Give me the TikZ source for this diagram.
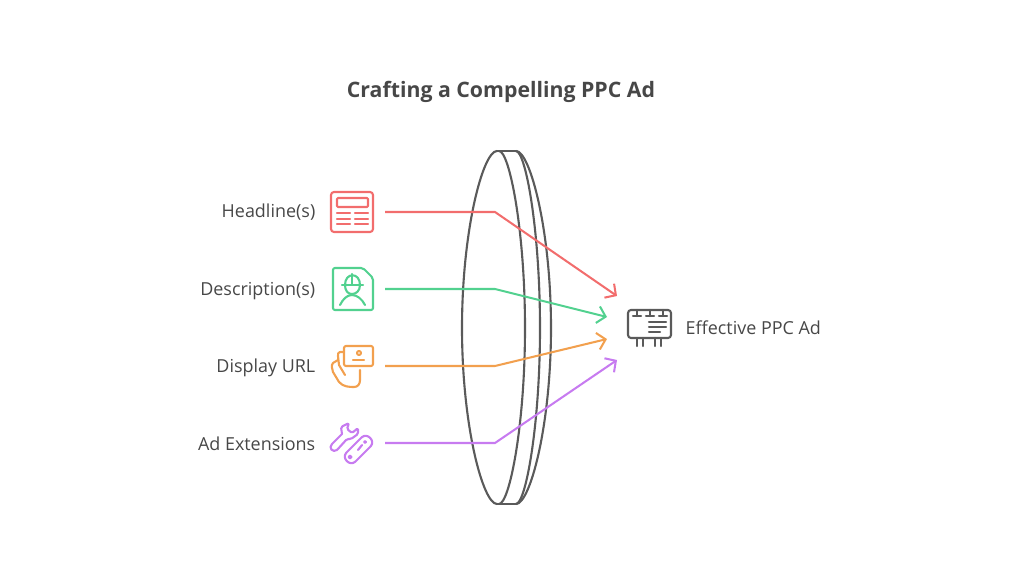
\documentclass[tikz,border=0pt]{standalone}
\usepackage{fontspec}
\setmainfont{Open Sans}
\usetikzlibrary{arrows.meta}
\definecolor{inktext}{HTML}{474747}
\definecolor{lensgray}{HTML}{5A5A5A}
\definecolor{adred}{HTML}{F26D6D}
\definecolor{adgreen}{HTML}{52D18F}
\definecolor{adorange}{HTML}{F2A04E}
\definecolor{adpurple}{HTML}{C77BF0}
\tikzset{
  titletext/.style={text=inktext,font=\fontsize{6.05pt}{7pt}\selectfont\bfseries,inner sep=0pt},
  adlabel/.style={text=inktext,font=\fontsize{5.1pt}{6pt}\selectfont,inner sep=0pt},
  lensline/.style={draw=lensgray,line width=0.6pt},
  iconline/.style={line width=0.6pt,line cap=round,line join=round},
  feed/.style={line width=0.58pt,->,>={Straight Barb[length=0.08cm,width=0.17cm]}}
}
\begin{document}
\begin{tikzpicture}[x=0.01cm,y=-0.01cm]
\useasboundingbox (0,0) rectangle (1024,579);
\node[titletext,anchor=base] (title) at (501,98) {Crafting a Compelling PPC Ad};
% lens
\foreach \topx/\rx in {497/-35,499/26,516/24,516/35}
  \draw[lensline] (\topx,151) .. controls ({\topx+0.4*\rx},151) and ({\topx+\rx},230) .. ({\topx+\rx},328)
    .. controls ({\topx+\rx},426) and ({\topx+0.4*\rx},504) .. (\topx,504);
\draw[lensline] (497,151) -- (516,151);
\draw[lensline] (497,504) -- (516,504);
% labels
\node[adlabel,anchor=base east] (headline) at (316,218) {Headline(s)};
\node[adlabel,anchor=base east] (description) at (316,296) {Description(s)};
\node[adlabel,anchor=base east] (displayurl) at (316,373) {Display URL};
\node[adlabel,anchor=base east] (extensions) at (316,450) {Ad Extensions};
\node[adlabel,anchor=base west] (result) at (685,334) {Effective PPC Ad};
% connector ends
\coordinate (headlineout) at (385,212);
\coordinate (headlinebend) at (495,212);
\coordinate (headlinein) at (617,296);
\coordinate (descriptionout) at (385,289);
\coordinate (descriptionbend) at (495,289);
\coordinate (descriptionin) at (607,317);
\coordinate (displayurlout) at (385,366);
\coordinate (displayurlbend) at (495,366);
\coordinate (displayurlin) at (607,339);
\coordinate (extensionsout) at (385,443);
\coordinate (extensionsbend) at (495,443);
\coordinate (extensionsin) at (617,360);
\draw[feed,adred] (headlineout) -- (headlinebend) -- (headlinein);
\draw[feed,adgreen] (descriptionout) -- (descriptionbend) -- (descriptionin);
\draw[feed,adorange] (displayurlout) -- (displayurlbend) -- (displayurlin);
\draw[feed,adpurple] (extensionsout) -- (extensionsbend) -- (extensionsin);
% headline icon
\draw[iconline,adred,rounded corners=0.03cm] (331,192) rectangle (373,232);
\draw[iconline,adred,rounded corners=0.01cm] (337,198) rectangle (368,207);
\foreach \y in {213,219,224} {
  \draw[iconline,adred] (337,\y) -- (350,\y);
  \draw[iconline,adred] (355,\y) -- (368,\y);
}
% description icon
\draw[iconline,adgreen,rounded corners=0.02cm] (363,268) -- (333,268) -- (333,310) -- (373,310) -- (373,278) -- cycle;
\draw[iconline,adgreen] (345,285) .. controls (345,272) and (360,272) .. (360,285);
\draw[iconline,adgreen] (345,285) .. controls (345,291) and (348,294) .. (352,294) .. controls (356,294) and (360,291) .. (360,285);
\draw[iconline,adgreen] (342,285) -- (363,285);
\draw[iconline,adgreen] (352,274) -- (352,284);
\draw[iconline,adgreen] (340,305) .. controls (343,299) and (347,295) .. (352,295) .. controls (357,295) and (362,299) .. (365,305);
% display url icon
\draw[iconline,adorange,rounded corners=0.02cm] (344,346) rectangle (373,366);
\draw[iconline,adorange] (359,353) circle[radius=2];
\draw[iconline,adorange] (353,360) -- (364,360);
\draw[iconline,adorange] (344,352) -- (340,352) .. controls (338,352) and (338,354) .. (338,356) -- (339,365) -- (345,375);
\draw[iconline,adorange] (338,360) -- (333,363) .. controls (331,365) and (332,369) .. (333,372) -- (339,382) .. controls (343,387) and (350,387) .. (354,387) .. controls (358,387) and (360,384) .. (360,380) -- (360,370);
% ad extensions icon
\draw[iconline,adpurple,rounded corners=0.015cm] (342,434) -- (341,427) -- (349,423) -- (347,429) -- (352,433) -- (358,428) -- (358,434) -- (351,439) -- (347,439) -- (337,450);
\draw[iconline,adpurple] (337,450) .. controls (333,453) and (328,448) .. (332,444) -- (342,434);
\draw[iconline,adpurple] (346.5,452.5) -- (361.5,437.5) .. controls (367,432) and (376,441) .. (370.5,446.5) -- (355.5,461.5) .. controls (350,467) and (341,458) .. (346.5,452.5);
\draw[iconline,adpurple] (350,457) circle[radius=1.5];
\draw[iconline,adpurple] (365,442) circle[radius=1];
\draw[iconline,adpurple] (358,450) -- (362,445);
% billboard icon
\draw[iconline,lensgray,rounded corners=0.03cm] (628,310) rectangle (671,338);
\foreach \x in {637,650,663} {
  \draw[iconline,lensgray] (\x,310) -- (\x,316);
  \draw[iconline,lensgray] (\x-4,316) -- (\x+4,316);
}
\draw[iconline,lensgray] (649,322) -- (666,322);
\draw[iconline,lensgray] (649,327) -- (666,327);
\draw[iconline,lensgray] (649,332) -- (660,332);
\foreach \x in {637,643,655,661}
  \draw[iconline,lensgray] (\x,338) -- (\x,346);
\end{tikzpicture}
\end{document}
